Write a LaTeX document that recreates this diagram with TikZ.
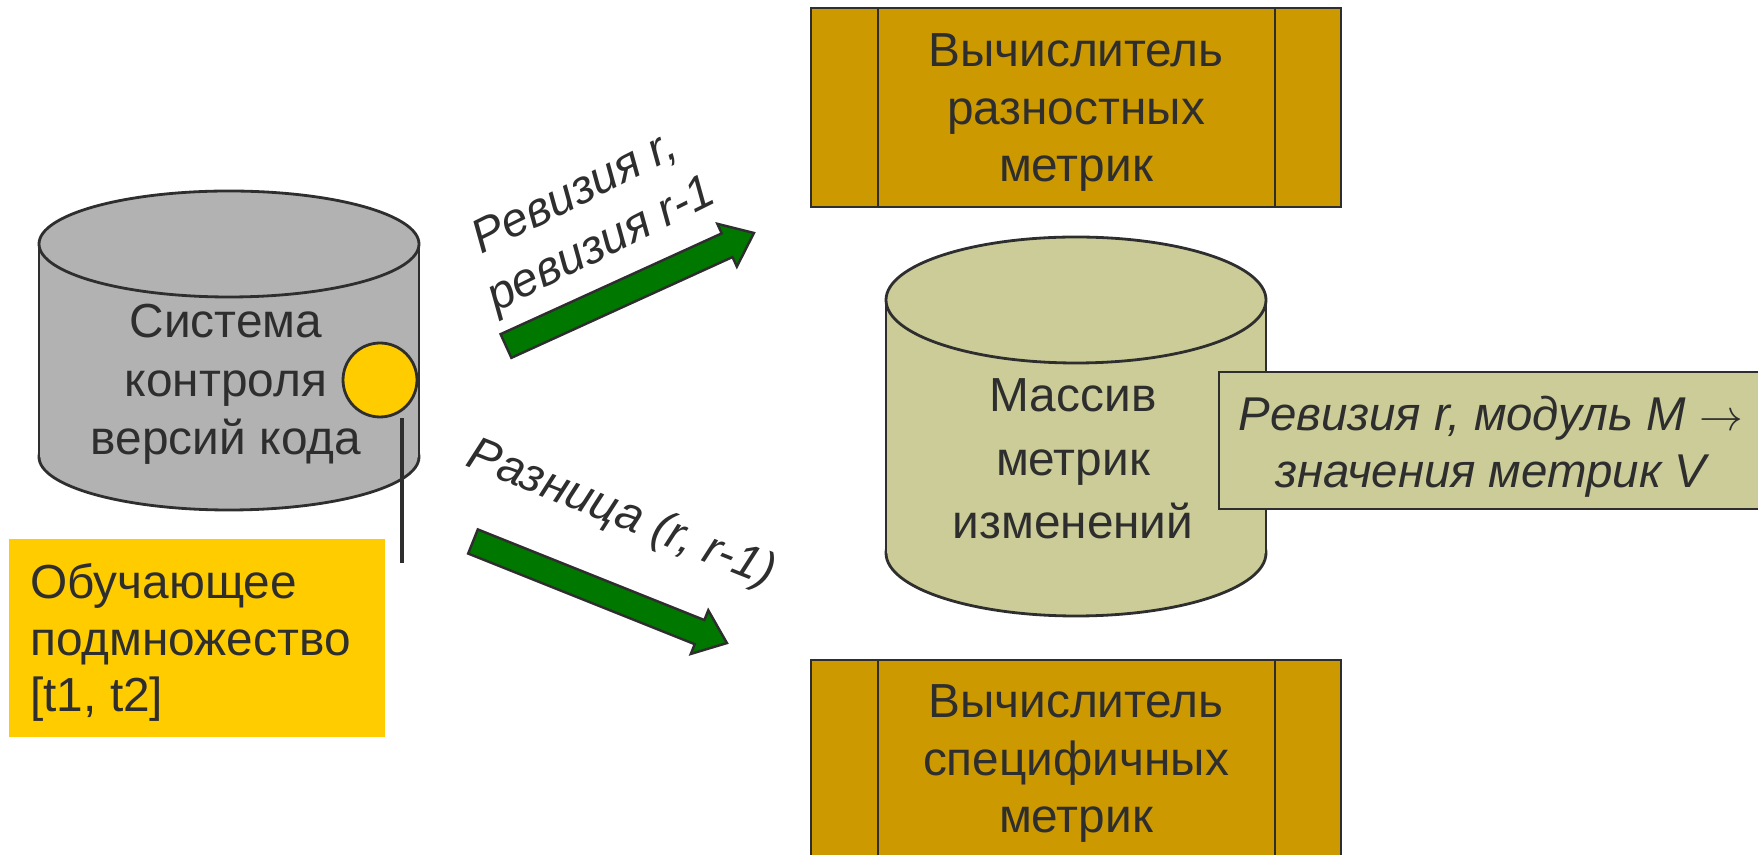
\documentclass[tikz,border=0pt]{standalone}
\usepackage{fontspec}
\setmainfont{Liberation Sans}
\definecolor{ink}{HTML}{2E2E2E}
\definecolor{vcsgray}{HTML}{B2B2B2}
\definecolor{probeyellow}{HTML}{FFCC00}
\definecolor{calcbrown}{HTML}{CC9900}
\definecolor{storegreen}{HTML}{CCCC99}
\definecolor{arrowgreen}{HTML}{007800}
\begin{document}
\begin{tikzpicture}[x=0.02cm,y=0.02cm,
  every node/.style={text=ink, inner sep=0pt, align=center, font=\fontsize{27.2}{33}\selectfont},
  outline/.style={draw=ink, line width=1.6pt},
  calcbox/.style={outline, fill=calcbrown},
  blockarrow/.style={draw=ink, line width=1.4pt, fill=arrowgreen, line join=miter},
  slanted/.style={font=\fontsize{27}{33}\selectfont\itshape}]
  \useasboundingbox (0, 0) rectangle (1758, 855);
  \clip (0, 0) rectangle (1758, 855);

  \filldraw[outline, fill=vcsgray] (229, 398) ellipse [x radius=190, y radius=53];
  \fill[vcsgray] (39, 398) rectangle (419, 611);
  \draw[outline] (39, 398) -- (39, 611) (419, 398) -- (419, 611);
  \filldraw[outline, fill=vcsgray] (229, 611) ellipse [x radius=190, y radius=53];
  \node[anchor=base, font=\fontsize{27.2}{33.3}\selectfont] at (226, 400) (vcs) {Система\\контроля\\версий кода};

  \node[circle, outline, fill=probeyellow, minimum size=1.48cm] at (380, 475) (probe) {};
  \coordinate (pin) at (402, 292);
  \draw[ink, line width=1.8pt] (pin |- probe.south) -- (pin);

  \fill[probeyellow] (9, 118) rectangle (385, 316);
  \node[anchor=base west, align=left, font=\fontsize{27.2}{32.4}\selectfont] at (30, 143) (train) {Обучающее\\подмножество\\{[t1, t2]}};

  \draw[calcbox] (811, 648) rectangle (1341, 847);
  \draw[outline] (878, 648) -- (878, 847) (1275, 648) -- (1275, 847);
  \node[anchor=base] at (1076, 673) (diffcalc) {Вычислитель\\разностных\\метрик};

  \draw[calcbox] (811, -20) rectangle (1341, 195);
  \draw[outline] (878, -20) -- (878, 195) (1275, -20) -- (1275, 195);
  \node[anchor=base] at (1076, 22) (speccalc) {Вычислитель\\специфичных\\метрик};

  \filldraw[outline, fill=storegreen] (1076, 302) ellipse [x radius=190, y radius=63];
  \fill[storegreen] (886, 302) rectangle (1266, 555);
  \draw[outline] (886, 302) -- (886, 555) (1266, 302) -- (1266, 555);
  \filldraw[outline, fill=storegreen] (1076, 555) ellipse [x radius=190, y radius=63];
  \node[anchor=base, font=\fontsize{27.2}{36.4}\selectfont] at (1073, 316) (store) {Массив\\метрик\\изменений};

  \draw[outline, fill=storegreen] (1219, 346) rectangle (1790, 483);
  \node[anchor=base, slanted] at (1491, 367) (record) {Ревизия r, модуль M $\rightarrow$\\значения метрик V};

  \begin{scope}[shift={(506, 509)}, rotate=24.5]
    \filldraw[blockarrow] (0, -13) -- (243, -13) -- (243, -23.5) -- (272.5, 0) -- (243, 23.5) -- (243, 13) -- (0, 13) -- cycle;
  \end{scope}
  \begin{scope}[shift={(473, 313.5)}, rotate=-21.8]
    \filldraw[blockarrow] (0, -13) -- (244, -13) -- (244, -23.5) -- (273.5, 0) -- (244, 23.5) -- (244, 13) -- (0, 13) -- cycle;
  \end{scope}

  \node[rotate=26.5, slanted] at (589, 634) (revlabel) {Ревизия r,\\ревизия r-1};
  \node[rotate=-21.8, slanted] at (621, 340) (difflabel) {Разница (r, r-1)};
\end{tikzpicture}
\end{document}
